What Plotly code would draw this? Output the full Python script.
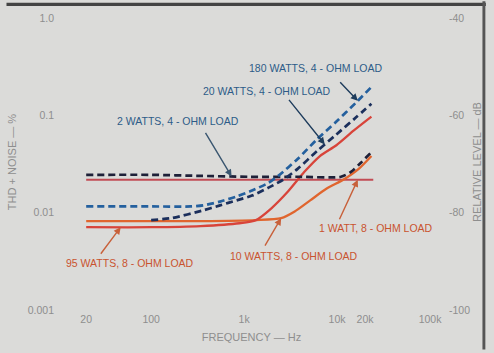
import numpy as np
import plotly.graph_objects as go

# ---- data (frequency in Hz, THD+N in %) ----
freq_2w = [20, 100, 340, 1130, 3760, 11000, 14100, 17900, 23400]
thd_2w = [0.0245, 0.0245, 0.0239, 0.0234, 0.0234, 0.0234, 0.0263, 0.0324, 0.0419]

freq_180w = [20, 100, 267, 365, 550, 830, 1215, 1830, 2325, 3760, 6080, 9830, 15900, 23400]
thd_180w = [0.0116, 0.0116, 0.0116, 0.0119, 0.0130, 0.0147, 0.0169, 0.0203, 0.0239, 0.0356, 0.0567, 0.0863, 0.1345, 0.1953]

freq_20w = [100, 165, 365, 550, 830, 1215, 1830, 2620, 3760, 6080, 9830, 15900, 23400]
thd_20w = [0.0084, 0.0088, 0.0106, 0.0119, 0.0134, 0.0150, 0.0181, 0.0218, 0.0282, 0.0429, 0.0637, 0.0948, 0.1314]

freq_1w = [20, 100, 1000, 10000, 24500]
thd_1w = [0.0218, 0.0218, 0.0218, 0.0218, 0.0218]

freq_10w = [20, 100, 340, 1340, 2500, 3500, 5140, 7730, 11640, 17090, 23400]
thd_10w = [0.0082, 0.0082, 0.0082, 0.0084, 0.0088, 0.0103, 0.0134, 0.0177, 0.0218, 0.0282, 0.0382]

freq_95w = [20, 100, 340, 890, 1340, 1965, 2960, 4450, 6540, 9830, 15160, 23400]
thd_95w = [0.0071, 0.0071, 0.0073, 0.0078, 0.0084, 0.0111, 0.0165, 0.0263, 0.0382, 0.0493, 0.0700, 0.0970]

x_tickvals = [20, 100, 1000, 10000, 20000, 100000]
x_ticktext = ["20", "100", "1k", "10k", "20k", "100k"]
y_tickvals = [1, 0.1, 0.01, 0.001]
y_ticktext = ["1.0", "0.1", "0.01", "0.001"]
db_tickvals = [-40, -60, -80, -100]
db_ticktext = ["-40", "-60", "-80", "-100"]

# ---- styling ----
BG = "#dbdbd9"
GRAY = "#8e8e8e"
BLUE_TXT = "#2d5b88"
RED_TXT = "#c9532f"
FONT = "Liberation Sans"

fig = go.Figure()

def add(freqs, vals, color, width, dash, name):
    fig.add_trace(go.Scatter(x=freqs, y=vals, mode="lines", name=name,
                             line=dict(color=color, width=width, dash=dash,
                                       shape="spline", smoothing=0.7),
                             hoverinfo="skip"))

add(freq_1w, thd_1w, "#c24c55", 2.2, "solid", "1 W, 8 ohm")
add(freq_10w, thd_10w, "#e0652e", 2.3, "solid", "10 W, 8 ohm")
add(freq_95w, thd_95w, "#d8443a", 2.3, "solid", "95 W, 8 ohm")
add(freq_2w, thd_2w, "#1e2038", 2.7, "7px,4px", "2 W, 4 ohm")
add(freq_180w, thd_180w, "#24609e", 2.7, "7px,4px", "180 W, 4 ohm")
add(freq_20w, thd_20w, "#1b2f5c", 2.7, "7px,4px", "20 W, 4 ohm")

# invisible trace that carries the relative-level (dB) axis
fig.add_trace(go.Scatter(x=freq_1w, y=[20 * np.log10(v / 100.0) for v in thd_1w],
                         yaxis="y2", mode="lines", line=dict(color="rgba(0,0,0,0)"),
                         hoverinfo="skip", showlegend=False))


def on_curve(f, freqs, vals):
    return 10 ** np.interp(np.log10(f), np.log10(freqs), np.log10(vals))


# plot area geometry (pixels)
L, R, T, B = 50, 39, 12, 39
W_PLOT = 494 - L - R
H_PLOT = 353 - T - B


def paper(px, py):
    return (px - L) / W_PLOT, (353 - B - py) / H_PLOT


labels = [
    ("180 WATTS, 4 - OHM LOAD", 318, 68, BLUE_TXT),
    ("20 WATTS, 4 - OHM LOAD", 268, 91, BLUE_TXT),
    ("2 WATTS, 4 - OHM LOAD", 177, 121, BLUE_TXT),
    ("1 WATT, 8 - OHM LOAD", 381, 230, RED_TXT),
    ("10 WATTS, 8 - OHM LOAD", 296, 258, RED_TXT),
    ("95 WATTS, 8 - OHM LOAD", 127, 265, RED_TXT),
]
annotations = []
for txt, px, py, col in labels:
    xp, yp = paper(px, py)
    annotations.append(dict(text=txt, x=xp, y=yp, xref="paper", yref="paper",
                            showarrow=False, xanchor="center", yanchor="middle",
                            font=dict(family=FONT, size=10.5, color=col)))

arrows = [
    (16690, freq_180w, thd_180w, -19, -20, "#1e3c5c"),
    (7370, freq_20w, thd_20w, -37, -46, "#1e3c5c"),
    (733, freq_2w, thd_2w, -27, -45, "#3a5670"),
    (16690, freq_1w, thd_1w, -19, 41, "#c8603a"),
    (2500, freq_10w, thd_10w, -17, 29, "#c8603a"),
    (47, freq_95w, thd_95w, -21, 28, "#c8603a"),
]
for f, fr, th, ax, ay, col in arrows:
    v = on_curve(f, fr, th)
    annotations.append(dict(text="", x=np.log10(f), y=np.log10(v), xref="x", yref="y",
                            showarrow=True, ax=ax, ay=ay, arrowhead=2, arrowsize=1,
                            arrowwidth=1.4, arrowcolor=col))

# frame decorations of the scanned page
x0p, _ = paper(0, 0)
x1p, _ = paper(494, 0)
_, ytop0 = paper(0, 1.5)
_, ytop1 = paper(0, 5)
xr0, _ = paper(490.5, 0)
xr1, _ = paper(493.5, 0)
_, yb = paper(0, 353)
_, yt = paper(0, 0)
shapes = [
    dict(type="rect", xref="paper", yref="paper", x0=x0p, x1=x1p, y0=ytop1, y1=ytop0,
         fillcolor="#444444", line=dict(width=0), layer="below"),
    dict(type="rect", xref="paper", yref="paper", x0=xr0, x1=xr1, y0=yb, y1=yt,
         fillcolor="#555555", line=dict(width=0), layer="below"),
]

y_lo = -3.009
y_hi = 0.0507
fig.update_layout(
    width=494, height=353,
    margin=dict(l=L, r=R, t=T, b=B),
    paper_bgcolor=BG, plot_bgcolor=BG,
    showlegend=False,
    font=dict(family=FONT, size=10.5, color=GRAY),
    xaxis=dict(type="log", range=[0.9656, 5.193], tickvals=x_tickvals, ticktext=x_ticktext,
               showgrid=False, zeroline=False, showline=False, ticks="",
               tickfont=dict(size=10.5, color=GRAY),
               title=dict(text="FREQUENCY — Hz", standoff=9,
                          font=dict(size=11, color=GRAY))),
    yaxis=dict(type="log", range=[y_lo, y_hi], tickvals=y_tickvals, ticktext=y_ticktext,
               showgrid=False, zeroline=False, showline=False, ticks="",
               tickfont=dict(size=10.5, color=GRAY),
               title=dict(text="THD + NOISE — %", standoff=8,
                          font=dict(size=11, color=GRAY))),
    yaxis2=dict(overlaying="y", side="right",
                range=[20 * (y_lo - 2), 20 * (y_hi - 2)],
                tickvals=db_tickvals, ticktext=db_ticktext,
                showgrid=False, zeroline=False, showline=False, ticks="",
                tickfont=dict(size=10.5, color=GRAY),
                title=dict(text="RELATIVE LEVEL — dB", standoff=4,
                           font=dict(size=11, color=GRAY))),
    annotations=annotations,
    shapes=shapes,
)

fig.write_html("out.html")
